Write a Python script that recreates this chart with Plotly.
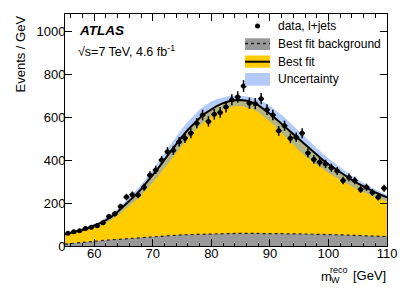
import math
import plotly.graph_objects as go

# ---------------- data ----------------
bin_centers = [55.5 + i for i in range(55)]
data_vals = [59, 66, 71, 82, 87, 95, 108, 138, 150, 184,
             228, 239, 238, 274, 330, 355, 401, 440, 446, 486,
             503, 526, 573, 611, 581, 614, 623, 648, 682, 695,
             746, 666, 664, 687, 636, 611, 537, 561, 502, 507,
             526, 434, 404, 391, 383, 365, 350, 305, 320, 305,
             264, 274, 249, 227, 269]

fit_x = [55 + i for i in range(56)]
fit_total = [55, 61, 68, 76, 85, 95, 107, 121, 138, 160,
             184, 209, 236, 265, 297, 331, 366, 403, 440, 476,
             510, 542, 571, 597, 620, 639, 654, 666, 675, 680,
             681, 677, 670, 657, 639, 617, 594, 570, 545, 520,
             495, 470, 447, 424, 402, 381, 362, 343, 325, 308,
             292, 277, 263, 250, 238, 227]
fit_bkg = [9, 12, 15, 17, 20, 22, 24, 27, 29, 31,
           33, 36, 38, 40, 43, 45, 46, 48, 49, 51,
           52, 53, 54, 55, 56, 57, 57, 58, 58, 59,
           59, 59, 59, 59, 59, 59, 59, 58, 58, 57,
           57, 56, 55, 55, 54, 53, 52, 52, 51, 50,
           49, 48, 47, 46, 45, 44]
unc_up = [5, 5, 6, 6, 7, 8, 9, 10, 12, 13,
          15, 17, 19, 21, 23, 25, 28, 31, 34, 36,
          38, 39, 40, 40, 38, 35, 31, 27, 24, 21,
          20, 20, 22, 26, 31, 36, 40, 42, 42, 41,
          39, 37, 34, 31, 29, 27, 25, 23, 21, 20,
          18, 17, 15, 14, 13, 12]
unc_down = [5, 6, 7, 8, 9, 10, 12, 14, 16, 18,
            20, 23, 26, 29, 32, 35, 37, 39, 40, 40,
            40, 39, 38, 37, 35, 33, 31, 30, 29, 28,
            28, 29, 30, 32, 34, 36, 40, 44, 47, 49,
            50, 50, 48, 46, 44, 41, 38, 36, 33, 31,
            29, 27, 25, 23, 21, 20]

x_ticks = [60, 70, 80, 90, 100, 110]
y_ticks = [0, 200, 400, 600, 800, 1000]

legend_labels = ["data, l+jets", "Best fit background", "Best fit", "Uncertainty"]

YELLOW = "#ffcc00"
GREY = "#999999"
BAND = "rgba(120,160,240,0.55)"
BAND_SOLID = "#b5cbf7"
FONT = "Liberation Sans, Arial, sans-serif"

band_hi = [t + u for t, u in zip(fit_total, unc_up)]
band_lo = [t - d for t, d in zip(fit_total, unc_down)]
data_err = [math.sqrt(v) for v in data_vals]

fig = go.Figure()
fig.add_trace(go.Scatter(x=fit_x, y=fit_total, mode="lines", line=dict(width=0, color=YELLOW),
                         fill="tozeroy", fillcolor=YELLOW, showlegend=False, hoverinfo="skip"))
fig.add_trace(go.Scatter(x=fit_x, y=fit_bkg, mode="lines", line=dict(width=0, color=GREY),
                         fill="tozeroy", fillcolor=GREY, showlegend=False, hoverinfo="skip"))
fig.add_trace(go.Scatter(x=fit_x, y=fit_bkg, mode="lines",
                         line=dict(width=1.2, color="#222", dash="dot"),
                         showlegend=False, hoverinfo="skip"))
fig.add_trace(go.Scatter(x=fit_x, y=band_lo, mode="lines", line=dict(width=0, color=BAND),
                         showlegend=False, hoverinfo="skip"))
fig.add_trace(go.Scatter(x=fit_x, y=band_hi, mode="lines", line=dict(width=0, color=BAND),
                         fill="tonexty", fillcolor=BAND, showlegend=False, hoverinfo="skip"))
fig.add_trace(go.Scatter(x=fit_x, y=fit_total, mode="lines", line=dict(width=2, color="black"),
                         showlegend=False, hoverinfo="skip"))
fig.add_trace(go.Scatter(x=bin_centers, y=data_vals, mode="markers",
                         marker=dict(size=5, color="black"),
                         error_y=dict(type="data", array=data_err, thickness=1.5, width=0, color="black"),
                         error_x=dict(type="constant", value=0.5, thickness=1.5, width=0, color="black"),
                         showlegend=False, hoverinfo="skip"))

# page is offset by the default 8px body margin -> figure is 399x286
W, H = 399, 286
L, T = 57, 6
PW, PH = 322, 232
R, B = W - L - PW, H - T - PH


def px(page_x):
    return (page_x - 65) / PW


def py(page_y):
    return (246 - page_y) / PH


shapes = []
annots = []
shapes.append(dict(type="circle", xref="paper", yref="paper",
                   x0=px(255), x1=px(260), y0=py(28.5), y1=py(23.5),
                   fillcolor="black", line=dict(width=0)))
shapes.append(dict(type="rect", xref="paper", yref="paper",
                   x0=px(245), x1=px(270), y0=py(50), y1=py(38.3),
                   fillcolor=GREY, line=dict(width=0)))
shapes.append(dict(type="line", xref="paper", yref="paper",
                   x0=px(245), x1=px(270), y0=py(43.5), y1=py(43.5),
                   line=dict(width=1.3, color="#222", dash="dot")))
shapes.append(dict(type="rect", xref="paper", yref="paper",
                   x0=px(245), x1=px(270), y0=py(67.7), y1=py(55.5),
                   fillcolor=YELLOW, line=dict(width=0)))
shapes.append(dict(type="line", xref="paper", yref="paper",
                   x0=px(245), x1=px(270), y0=py(61.7), y1=py(61.7),
                   line=dict(width=2, color="black")))
shapes.append(dict(type="rect", xref="paper", yref="paper",
                   x0=px(245), x1=px(270), y0=py(85.7), y1=py(73),
                   fillcolor=BAND_SOLID, line=dict(width=0)))

for lab, yy in zip(legend_labels, [26, 43.5, 61.7, 79.3]):
    annots.append(dict(text=lab, xref="paper", yref="paper", x=px(276), y=py(yy),
                       xanchor="left", yanchor="middle", showarrow=False,
                       font=dict(family=FONT, size=12, color="black")))

annots.append(dict(text="<b><i>ATLAS</i></b>", xref="paper", yref="paper", x=px(77), y=py(30),
                   xanchor="left", yanchor="middle", showarrow=False,
                   font=dict(family=FONT, size=13.5, color="black")))
annots.append(dict(text="\u221as=7 TeV, 4.6 fb<sup>-1</sup>", xref="paper", yref="paper",
                   x=px(76), y=py(51), xanchor="left", yanchor="middle", showarrow=False,
                   font=dict(family=FONT, size=12.5, color="black")))
annots.append(dict(text="Events / GeV", xref="paper", yref="paper", x=px(20), y=py(14),
                   xanchor="center", yanchor="top", textangle=-90, showarrow=False,
                   font=dict(family=FONT, size=13, color="black")))
annots.append(dict(text="m", xref="paper", yref="paper", x=px(319), y=py(276),
                   xanchor="left", yanchor="middle", showarrow=False,
                   font=dict(family=FONT, size=13, color="black")))
annots.append(dict(text="reco", xref="paper", yref="paper", x=px(328), y=py(270),
                   xanchor="left", yanchor="middle", showarrow=False,
                   font=dict(family=FONT, size=9, color="black")))
annots.append(dict(text="W", xref="paper", yref="paper", x=px(328.5), y=py(280),
                   xanchor="left", yanchor="middle", showarrow=False,
                   font=dict(family=FONT, size=9, color="black")))
annots.append(dict(text="[GeV]", xref="paper", yref="paper", x=px(387.5), y=py(275.5),
                   xanchor="right", yanchor="middle", showarrow=False,
                   font=dict(family=FONT, size=13, color="black")))

fig.update_layout(
    width=W, height=H,
    margin=dict(l=L, r=R, t=T, b=B, pad=0),
    paper_bgcolor="white", plot_bgcolor="white",
    showlegend=False,
    shapes=shapes, annotations=annots,
    font=dict(family=FONT, size=13, color="black"),
)
fig.update_xaxes(range=[55, 110], tickvals=x_ticks, ticks="inside", ticklen=7, tickwidth=1,
                 tickcolor="black", showline=True, linecolor="black", linewidth=1, mirror="ticks",
                 showgrid=False, zeroline=False, ticklabelstandoff=-5,
                 minor=dict(ticks="inside", ticklen=3.5, dtick=2, tick0=0, tickcolor="black", showgrid=False),
                 tickfont=dict(family=FONT, size=13, color="black"))
fig.update_yaxes(range=[0, 1082], tickvals=y_ticks, ticks="inside", ticklen=7, tickwidth=1,
                 tickcolor="black", showline=True, linecolor="black", linewidth=1, mirror="ticks",
                 showgrid=False, zeroline=False, ticklabelstandoff=-4,
                 tickfont=dict(family=FONT, size=13, color="black"))

fig.write_html("out.html")
